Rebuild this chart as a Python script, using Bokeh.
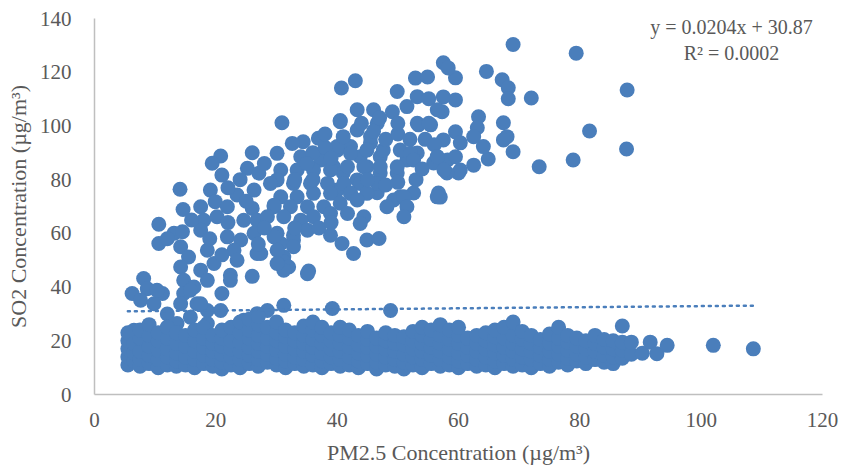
from bokeh.plotting import figure
from bokeh.models import Range1d, Label
from bokeh.embed import file_html
from bokeh.resources import INLINE

# ---- Data ----
# Upper (scattered) cluster: PM2.5 (x) vs SO2 (y)
upper_pts = [
    (69.0,130.3),(79.4,127.1),(87.8,113.4),(64.6,120.3),(67.2,117.2),(68.2,114.2),(68.2,110.1),(72.0,110.4),
    (63.3,103.4),(63.1,99.3),(67.4,101.2),(68.0,96.0),(67.4,94.8),(69.0,90.4),(64.9,87.7),(62.5,85.4),
    (73.3,84.8),(78.9,87.3),(81.6,98.1),(87.7,91.4),(59.5,109.7),(59.5,117.9),(57.5,123.5),(58.3,121.6),
    (57.5,110.8),(59.5,97.8),(57.5,94.8),(60.3,93.7),(58.2,87.3),(60.3,83.6),(57.0,73.5),
    (52.9,117.8),(54.9,118.2),(49.9,112.8),(43.0,116.8),(40.7,114.1),(53.2,110.9),(55.1,110.1),
    (46.0,106.0),(43.3,106.0),(40.5,102.0),(49.1,105.3),(51.5,107.2),(53.4,100.4),(55.4,100.4),(57.3,105.3),
    (62.5,96.0),(64.1,92.3),(56.5,88.5),(59.5,88.5),(60.0,82.5),(58.1,82.5),(55.9,86.2),(56.7,75.0),
    (52.6,75.0),(50.4,73.6),(46.6,75.1),(49.9,82.5),(51.5,87.3),(53.2,89.9),(47.1,88.5),(45.5,93.7),
    (43.8,88.5),(42.2,92.3),(40.0,91.0),(39.4,84.8),(41.0,82.5),(43.3,79.9),(44.9,84.8),(47.1,82.5),
    (40.0,76.1),(42.2,75.0),(54.5,95.0),(56.0,93.0),
    (30.9,101.2),(40.5,101.6),(56.5,106.0),(53.2,101.0),(55.1,101.0),(46.6,101.0),(43.3,98.5),(45.5,96.0),
    (36.9,95.4),(34.4,94.1),(32.6,93.5),(30.1,89.8),(34.0,88.5),(37.3,87.3),(40.0,92.3),(42.2,89.8),
    (44.9,91.0),(47.6,91.0),(50.4,91.0),(52.1,89.8),(52.6,87.3),(49.9,84.8),(47.1,84.8),(44.4,84.8),
    (41.7,84.8),(38.9,83.6),(36.1,83.6),(33.4,83.6),(30.7,83.6),(30.1,79.9),(32.8,78.6),(35.6,78.6),
    (38.4,78.6),(41.1,78.6),(43.8,78.6),(46.6,78.6),(42.2,74.9),(44.9,74.9),(38.9,74.9),(36.1,74.9),
    (33.4,73.6),(30.7,73.6),(29.6,69.9),(32.3,69.9),(35.1,69.9),(37.8,69.9),(40.5,71.2),(43.3,72.4),
    (49.3,72.4),(51.0,73.6),(48.2,69.9),(51.5,69.9),(51.0,66.2),(56.5,73.6),(57.6,83.6),(56.5,88.5),
    (44.4,66.2),(43.8,63.7),(41.7,67.4),(38.9,67.4),(36.1,66.2),(34.0,64.9),(31.2,66.2),(30.1,60.0),
    (32.8,57.5),(35.1,61.2),(38.9,59.3),(40.8,56.2),(44.9,57.5),(46.9,58.1),(42.7,52.5),(31.2,51.2),
    (27.4,52.5),(29.8,59.3),(30.7,56.2),(32.8,59.3),(32.8,55.0),(31.2,49.4),(32.0,47.5),(35.3,46.0),(31.2,46.3),
    (20.8,88.8),(19.4,86.1),(26.0,90.0),(25.2,84.2),(21.0,81.7),(27.1,82.4),(29.0,78.6),(14.1,76.4),
    (19.1,76.1),(23.5,74.3),(26.3,76.1),(17.5,69.9),(19.9,71.8),(21.9,69.9),(14.6,68.9),(26.0,69.3),
    (29.6,70.5),(18.0,64.9),(20.2,66.2),(24.6,64.9),(26.8,64.9),(28.5,66.2),(10.6,63.4),(17.5,61.2),
    (13.1,60.0),(14.5,60.6),(21.9,58.7),(24.1,57.5),(26.3,60.0),(29.6,58.7),(10.6,56.2),(14.2,55.0),
    (18.6,53.7),(23.0,53.7),(26.8,52.5),(30.1,53.7),(15.5,51.2),(19.7,48.8),(23.5,50.0),(14.2,47.5),
    (17.5,46.3),(22.4,44.4),(26.0,44.0),(30.1,48.8),(14.7,42.5),(16.4,40.0),(18.6,42.5),(8.1,43.2),
    (6.2,37.6),(8.7,39.4),(11.2,37.6),(7.6,35.1),(9.8,33.8),(14.7,37.6),(14.2,33.8),(16.9,33.8),
    (21.0,37.6),(20.8,31.3),(18.6,31.3),
    (39.2,32.0),(48.8,31.3),(31.2,33.2),(10.3,38.8),(12.0,30.0),(15.8,38.8),(17.5,33.8),(12.0,25.0),
    (6.5,23.9),(13.6,26.4),(15.8,28.8),(18.6,26.4),(22.4,42.5),(24.6,27.6),(26.8,30.1),(28.5,31.3),(35.1,45.0),
    (36.0,90.0),(38.0,92.0),(35.0,86.0),(39.0,88.0),(45.0,80.0),(48.0,78.0),(50.0,79.0),(53.0,80.0),
    (54.0,84.0),(48.0,95.0),(50.0,97.0),(52.0,95.0),(46.0,98.0),(38.0,97.0),(41.0,96.0),(44.0,101.0),
    (47.0,103.0),(50.0,101.0),(33.0,80.0),(36.0,80.0),(28.0,86.0),(24.0,80.0),(22.0,77.0),(25.0,72.0),
    (22.0,64.0),(16.0,65.0),(19.0,58.0),(21.0,52.0),(27.0,56.0),(12.0,58.0),(37.0,62.0),(39.0,64.0),
    (33.0,62.0),(28.0,62.0),
]
upper_x = [p_[0] for p_ in upper_pts]
upper_y = [p_[1] for p_ in upper_pts]

# Lower dense band: PM2.5 column -> SO2 values
band_cols = [5.5, 6.5, 7.5, 9, 10.5, 12, 13.5, 15, 16.5, 18, 19.5, 21, 22.5, 24, 25.5, 27, 28.5, 30,
             31.5, 33, 34.5, 36, 37.5, 39, 40.5, 42, 43.5, 45, 46.5, 48, 49.5, 51, 52.5, 54, 55.5,
             57, 58.5, 60, 61.5, 63, 64.5, 66, 67.5, 69, 70.5, 72, 73.5, 75, 76.5, 78, 79.5, 81,
             82.5, 84, 85.5, 87, 88.5, 90.3, 91.6, 92.7, 94.4, 102.0, 108.6]
band_ys = [
    [11, 14, 17, 20, 23], [12.5, 15.5, 19], [10.5, 13, 16, 21, 24], [11.5, 14.5, 18, 22, 26],
    [10, 13, 16.5, 20, 23], [11, 14, 17, 21, 25], [10.5, 12.5, 15.5, 19, 23], [11, 14, 18, 22],
    [10, 13, 16, 20, 24], [11.5, 14.5, 17.5, 21, 25], [10.5, 13, 16, 19, 22], [9.5, 12, 15, 18, 21, 24],
    [11, 14, 17, 20, 25], [10, 13, 16, 19.5, 23, 27], [11.5, 14.5, 17.5, 21, 24, 28],
    [10.5, 13, 16, 19, 22, 26, 29], [12, 15, 18, 21, 25], [11, 13.5, 16.5, 20, 23, 27],
    [10, 12.5, 15, 18, 21.5, 24], [11.5, 14, 17, 20, 23], [10.5, 13, 16, 19, 22, 25.5],
    [11, 14.5, 17.5, 20.5, 24, 27], [10, 12.5, 15.5, 19, 22, 25], [11.5, 14, 17, 20, 23],
    [10.5, 13, 16, 19, 22, 25], [11, 14, 17.5, 21, 24], [10, 12.5, 15.5, 18.5, 22],
    [11.5, 14.5, 17.5, 20.5, 23.5], [9.5, 12, 15, 18, 21], [11, 14, 17, 20, 23],
    [10.5, 13, 16, 19, 22], [9.5, 12, 15, 18.5, 21.5], [11, 14, 17, 20, 23.5],
    [10, 13, 16, 19, 22, 25], [11.5, 14.5, 17.5, 20.5, 24], [10.5, 13, 16, 19, 22, 26],
    [11, 14, 17, 20.5, 24], [10, 12.5, 15.5, 19, 22, 25], [11.5, 14.5, 17.5, 21],
    [10.5, 13, 16, 19, 22], [11, 14, 17, 20, 23], [10, 12.5, 15.5, 18.5, 21.5, 24],
    [11.5, 14.5, 17.5, 21, 25], [10.5, 13, 16, 19, 22, 27], [11, 14, 17, 20.5, 23.5],
    [10, 13, 16, 19, 22], [11.5, 14.5, 17.5, 20.5], [10.5, 13, 16, 19, 22.5],
    [12, 15, 18, 21, 25], [11, 13.5, 16.5, 19.5, 22], [12.5, 15, 18, 21], [11.5, 14, 17, 20],
    [13, 16, 19, 22], [12, 14.5, 17.5, 20.5], [11.5, 14, 17, 20], [13.5, 16.5, 19.5, 25.5],
    [15, 19.5], [15.4], [19.5], [15.2], [18.3], [18.3], [17.0],
]
band_x = [c for c, ys in zip(band_cols, band_ys) for _ in ys]
band_y = [y for ys in band_ys for y in ys]

x_ticks = [0, 20, 40, 60, 80, 100, 120]
y_ticks = [0, 20, 40, 60, 80, 100, 120, 140]

trend_slope = 0.0204
trend_intercept = 30.87
eq_text = "y = 0.0204x + 30.87"
r2_text = "R\u00b2 = 0.0002"

x_title = "PM2.5 Concentration (\u00b5g/m\u00b3)"
y_title = "SO2 Concentration (\u00b5g/m\u00b3)"

# ---- Plot ----
FONT = "Liberation Serif"
TXT = "#595959"
BLUE = "#4a7ebb"

all_x = upper_x + band_x
all_y = upper_y + band_y

p = figure(width=843, height=475, output_backend="svg", toolbar_location=None,
           x_range=Range1d(0, 120), y_range=Range1d(0, 140),
           min_border_left=94, min_border_right=21, min_border_top=18, min_border_bottom=81)
p.outline_line_color = None
p.xgrid.visible = False
p.ygrid.visible = False
p.background_fill_color = "white"
p.border_fill_color = "white"

# trendline
tx = [min(all_x), max(all_x)]
ty = [trend_slope * v + trend_intercept for v in tx]

p.scatter(all_x, all_y, size=15, color=BLUE, line_color=None)
p.line(tx, ty, line_color=BLUE, line_width=2.5, line_dash="2 5", line_cap="round")

for ax in (p.xaxis[0], p.yaxis[0]):
    ax.major_tick_line_color = None
    ax.minor_tick_line_color = None
    ax.axis_line_color = "#bfbfbf"
    ax.axis_line_width = 1.5
    ax.major_label_text_font = FONT
    ax.major_label_text_font_size = "21px"
    ax.major_label_text_color = TXT
    ax.axis_label_text_font = FONT
    ax.axis_label_text_font_size = "22px"
    ax.axis_label_text_font_style = "normal"
    ax.axis_label_text_color = TXT

p.xaxis.ticker = x_ticks
p.yaxis.ticker = y_ticks
p.xaxis.axis_label = x_title
p.yaxis.axis_label = y_title
p.xaxis.major_label_standoff = 12
p.yaxis.major_label_standoff = 17
p.xaxis.axis_label_standoff = 10
p.yaxis.axis_label_standoff = 6

p.add_layout(Label(x=105, y=137, text=eq_text, text_align="center", text_baseline="middle",
                   text_font=FONT, text_font_size="20px", text_color=TXT))
p.add_layout(Label(x=105, y=127.3, text=r2_text, text_align="center", text_baseline="middle",
                   text_font=FONT, text_font_size="20px", text_color=TXT))

open("out.html", "w").write(file_html(p, INLINE))
